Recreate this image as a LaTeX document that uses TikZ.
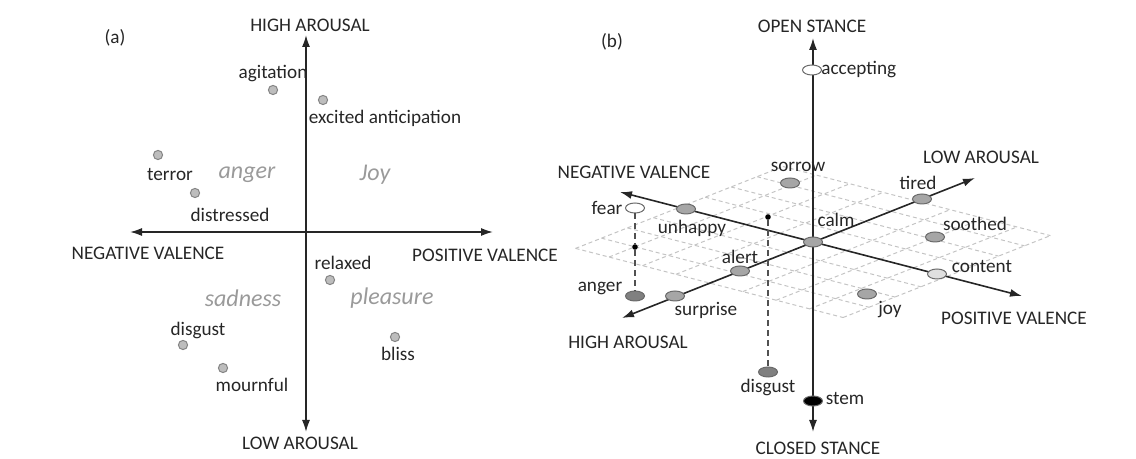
\documentclass[tikz,border=0pt]{standalone}
\usepackage{fontspec}
\setmainfont{Carlito}
\usetikzlibrary{arrows.meta,shapes.geometric}

\definecolor{ink}{HTML}{262626}
\definecolor{moodgrey}{HTML}{9A9A9A}
\definecolor{dotfill}{HTML}{BDBDBD}
\definecolor{dotline}{HTML}{858585}
\definecolor{gridgrey}{HTML}{C4C4C4}

\tikzset{
  axis/.style={draw=ink, line width=0.8pt, {Latex[length=6pt,width=4pt]}-{Latex[length=6pt,width=4pt]}},
  axislbl/.style={text=ink, font=\fontsize{9.6}{11}\selectfont, inner sep=0pt},
  lbl/.style={text=ink, font=\fontsize{9.6}{11}\selectfont, inner sep=0pt},
  mood/.style={text=moodgrey, font=\fontsize{12}{14}\selectfont\itshape, inner sep=0pt},
  pt/.style={circle, draw=dotline, fill=dotfill, line width=0.5pt, minimum size=4.6pt, inner sep=0pt},
  blob/.style={ellipse, draw=dotline!80!black, fill=#1, line width=0.5pt, minimum width=9.5pt, minimum height=5pt, inner sep=0pt},
  blob/.default={gray!70},
  proj/.style={circle, fill=black, minimum size=2.8pt, inner sep=0pt},
  drop/.style={draw=ink!80, densely dashed, line width=0.6pt},
  gridln/.style={draw=gridgrey, dash pattern=on 2pt off 1.5pt, line width=0.5pt}
}

\begin{document}
\begin{tikzpicture}[x=0.5pt,y=-0.5pt]
  \useasboundingbox (0,0) rectangle (1136,459);

  % (a) two axes
  \node[lbl] (tagA) at (115,38) {(a)};
  \node[axislbl] (hiA) at (310,25) {HIGH AROUSAL};
  \node[axislbl] (loA) at (300,443) {LOW AROUSAL};
  \node[axislbl] (negV) at (148,253) {NEGATIVE VALENCE};
  \node[axislbl] (posV) at (485,255) {POSITIVE VALENCE};
  \coordinate (aTop) at (306,35);
  \coordinate (aBot) at (306,432);
  \coordinate (aLeft) at (130,232);
  \coordinate (aRight) at (493,232);
  \draw[axis] (aBot) -- (aTop);
  \draw[axis] (aLeft) -- (aRight);

  \node[mood] (anger) at (247,175) {anger};
  \node[mood] (joy) at (375,175) {Joy};
  \node[mood] (sadness) at (243,298) {sadness};
  \node[mood] (pleasure) at (392,298) {pleasure};

  \node[pt] (agit) at (273,90) {};
  \node[lbl] at (273,74) {agitation};
  \node[pt] (excit) at (323,100) {};
  \node[lbl] at (385,118) {excited anticipation};
  \node[pt] (terror) at (158,155) {};
  \node[lbl] at (170,175) {terror};
  \node[pt] (distr) at (195,193) {};
  \node[lbl] at (230,215) {distressed};
  \node[pt] (relax) at (330,280) {};
  \node[lbl] at (343,263) {relaxed};
  \node[pt] (disg) at (183,345) {};
  \node[lbl] at (198,330) {disgust};
  \node[pt] (mourn) at (223,368) {};
  \node[lbl] at (252,385) {mournful};
  \node[pt] (bliss) at (395,337) {};
  \node[lbl] at (398,354) {bliss};

  % (b) three axes
  \node[lbl] (tagB) at (612,42) {(b)};
  \node[axislbl] (openS) at (812,26) {OPEN STANCE};
  \node[axislbl] (closedS) at (818,448) {CLOSED STANCE};
  \node[axislbl] (negV2) at (634,172) {NEGATIVE VALENCE};
  \node[axislbl] (loA2) at (981,157) {LOW AROUSAL};
  \node[axislbl] (posV2) at (1014,318) {POSITIVE VALENCE};
  \node[axislbl] (hiA2) at (628,342) {HIGH AROUSAL};

  \coordinate (ctr) at (813,242);
  \begin{scope}[shift={(ctr)}, x={(16.72pt,-4.32pt)}, y={(12.96pt,5.12pt)}]
    \foreach \g in {-4,...,4} {
      \draw[gridln] (\g,-4) -- (\g,4);
      \draw[gridln] (-4,\g) -- (4,\g);
    }
  \end{scope}

  \coordinate (sTop) at (813,38);
  \coordinate (sBot) at (813,432);
  \coordinate (vNeg) at (620,192);
  \coordinate (vPos) at (1022,296);
  \coordinate (aLow) at (975,178);
  \coordinate (aHigh) at (622,318);
  \draw[axis] (sBot) -- (sTop);
  \draw[axis] (vNeg) -- (vPos);
  \draw[axis] (aHigh) -- (aLow);

  \node[proj] (fearP) at (635,247) {};
  \node[proj] (disgP) at (768,217) {};

  \node[blob=white] (accept) at (812,70) {};
  \node[lbl, anchor=west] at (821,70) {accepting};
  \node[blob] (sorrow) at (790,183) {};
  \node[lbl] at (798,167) {sorrow};
  \node[blob=white] (fear) at (635,208) {};
  \node[lbl] at (607,208) {fear};
  \node[blob] (unhappy) at (686,209) {};
  \node[lbl] at (692,228) {unhappy};
  \node[blob] (calm) at (ctr) {};
  \node[lbl] at (836,220) {calm};
  \node[blob] (tired) at (922,199) {};
  \node[lbl] at (918,183) {tired};
  \node[blob] (soothed) at (935,237) {};
  \node[lbl] at (975,224) {soothed};
  \node[blob=gray!25] (content) at (937,274) {};
  \node[lbl] at (982,267) {content};
  \node[blob] (joy2) at (867,294) {};
  \node[lbl] at (890,310) {joy};
  \node[blob] (alert) at (740,271) {};
  \node[lbl] at (740,257) {alert};
  \node[blob] (surprise) at (675,296) {};
  \node[lbl] at (706,310) {surprise};
  \node[blob=gray] (anger2) at (635,296) {};
  \node[lbl] at (600,288) {anger};
  \node[blob=gray] (disgust) at (768,372) {};
  \node[lbl] at (768,387) {disgust};
  \node[blob=black] (stem) at (813,401) {};
  \node[lbl] at (845,399) {stem};

  \draw[drop] (fear) -- (fearP) -- (anger2);
  \draw[drop] (disgP) -- (disgust);
\end{tikzpicture}
\end{document}
